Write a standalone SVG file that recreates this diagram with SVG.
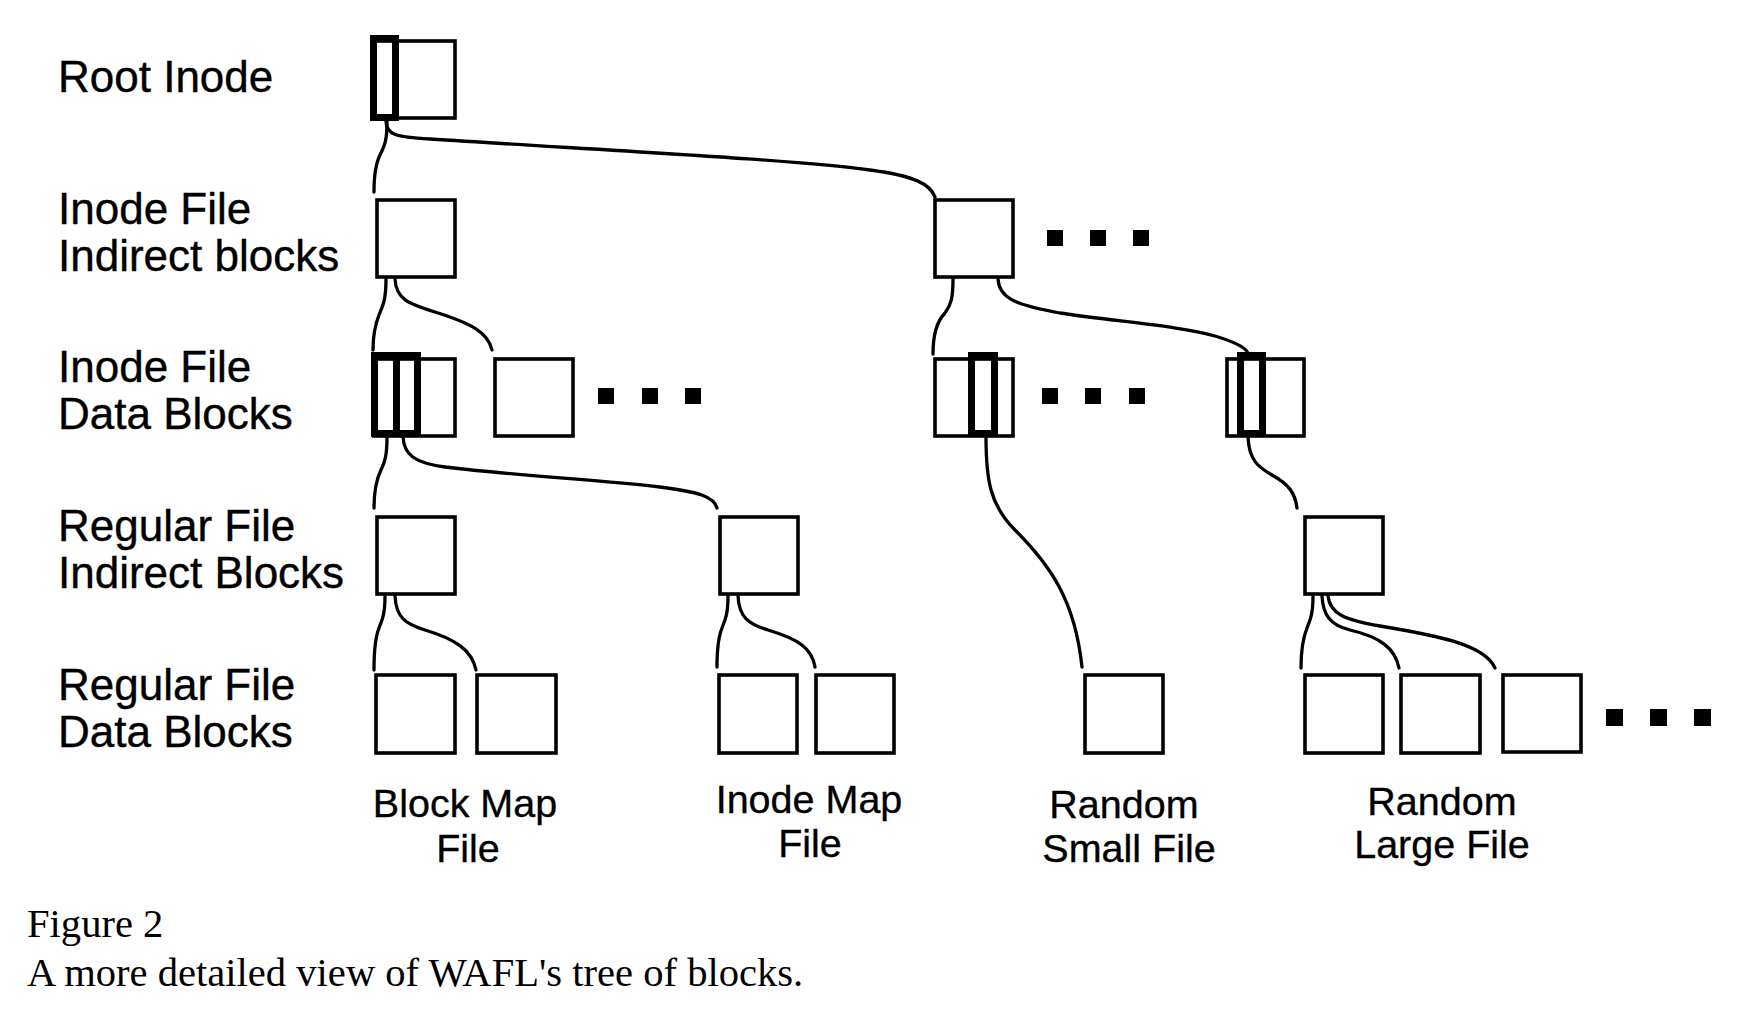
<svg xmlns="http://www.w3.org/2000/svg" width="1741" height="1012" viewBox="0 0 1741 1012">
<style>
.box{fill:none;stroke:#000;stroke-width:3.6}
.thick{fill:none;stroke:#000;stroke-width:7}
.dot{fill:#000}
.conn path{fill:none;stroke:#000;stroke-width:3.3;stroke-linecap:round}
.lbl{font-family:"Liberation Sans",Arial,Helvetica,sans-serif;font-size:44px;fill:#000;stroke:#000;stroke-width:0.4}
.flbl{font-family:"Liberation Sans",Arial,Helvetica,sans-serif;font-size:39.5px;fill:#000;stroke:#000;stroke-width:0.35;text-anchor:middle}
.cap{font-family:"Liberation Serif","Times New Roman",serif;font-size:40.6px;fill:#000}
</style>
<rect width="1741" height="1012" fill="#fff"/>

<g id="row-labels">
<text class="lbl" x="58" y="92">Root Inode</text>
<text class="lbl" x="58" y="224">Inode File</text>
<text class="lbl" x="58" y="271">Indirect blocks</text>
<text class="lbl" x="58" y="382">Inode File</text>
<text class="lbl" x="58" y="429">Data Blocks</text>
<text class="lbl" x="58" y="541">Regular File</text>
<text class="lbl" x="58" y="588">Indirect Blocks</text>
<text class="lbl" x="58" y="700">Regular File</text>
<text class="lbl" x="58" y="747">Data Blocks</text>
</g>

<g id="connectors" class="conn">
<path d="M387 121 C387 140 385 145 380 155 C376 163 374 175 374 192"/>
<path d="M386 121 C386 135 396 137 430 139 C600 150 800 160 870 170 C915 176 930 184 935 197"/>
<path d="M386 279 C386 300 383 305 379 315 C375 325 373 335 373 350"/>
<path d="M395 279 C396 300 410 304 435 312 C470 323 488 332 492 350"/>
<path d="M387 437 C387 455 385 462 381 470 C376 480 374 490 374 508"/>
<path d="M403 437 C404 455 415 463 445 467 C520 476 600 480 660 487 C700 492 714 497 717 508"/>
<path d="M385 596 C385 615 382 620 379 628 C375 638 374 650 374 670"/>
<path d="M395 596 C396 617 405 624 425 630 C455 639 472 650 476 670"/>
<path d="M728 596 C728 615 725 620 722 628 C718 638 717 648 717 667"/>
<path d="M738 596 C739 617 748 624 768 630 C798 639 812 648 815 667"/>
<path d="M953 279 C953 298 951 305 945 313 C936 322 933 335 933 354"/>
<path d="M998 279 C999 298 1015 305 1060 313 C1120 322 1180 326 1215 336 C1238 343 1246 348 1248 353"/>
<path d="M986 437 C986 480 990 505 1015 530 C1050 565 1075 600 1082 667"/>
<path d="M1248 437 C1249 460 1258 467 1272 475 C1288 484 1295 492 1297 508"/>
<path d="M1313 596 C1313 615 1310 620 1307 628 C1303 638 1301 650 1301 668"/>
<path d="M1322 596 C1323 615 1330 625 1350 630 C1380 637 1395 648 1399 668"/>
<path d="M1328 596 C1330 614 1345 620 1380 626 C1440 636 1485 645 1495 668"/>
</g>

<g id="root-inode">
<rect class="box" x="374" y="41" width="81" height="77"/>
<rect class="thick" x="373.5" y="38.5" width="22" height="79"/>
</g>

<g id="inode-indirect-1"><rect class="box" x="377" y="200" width="78" height="77"/></g>
<g id="inode-indirect-2"><rect class="box" x="935" y="200" width="78" height="77"/></g>
<g id="dots-row2">
<rect class="dot" x="1047" y="230" width="16" height="16"/>
<rect class="dot" x="1090" y="230" width="16" height="16"/>
<rect class="dot" x="1133" y="230" width="16" height="16"/>
</g>

<g id="inode-data-1">
<rect class="box" x="374" y="359" width="81" height="77"/>
<rect class="thick" x="374.5" y="355.5" width="22" height="78"/>
<rect class="thick" x="396.5" y="355.5" width="21" height="78"/>
</g>
<g id="inode-data-2"><rect class="box" x="495" y="359" width="78" height="77"/></g>
<g id="dots-row3a">
<rect class="dot" x="598" y="388" width="16" height="16"/>
<rect class="dot" x="642" y="388" width="16" height="16"/>
<rect class="dot" x="685" y="388" width="16" height="16"/>
</g>
<g id="inode-data-3">
<rect class="box" x="935" y="359" width="78" height="77"/>
<rect class="thick" x="971.5" y="355.5" width="23" height="78"/>
</g>
<g id="dots-row3c">
<rect class="dot" x="1042" y="388" width="16" height="16"/>
<rect class="dot" x="1085" y="388" width="16" height="16"/>
<rect class="dot" x="1129" y="388" width="16" height="16"/>
</g>
<g id="inode-data-4">
<rect class="box" x="1227" y="359" width="77" height="77"/>
<rect class="thick" x="1240.5" y="355.5" width="22" height="78"/>
</g>

<g id="reg-indirect-1"><rect class="box" x="377" y="517" width="78" height="77"/></g>
<g id="reg-indirect-2"><rect class="box" x="720" y="517" width="78" height="77"/></g>
<g id="reg-indirect-3"><rect class="box" x="1305" y="517" width="78" height="77"/></g>

<g id="reg-data-1"><rect class="box" x="376" y="675" width="79" height="78"/></g>
<g id="reg-data-2"><rect class="box" x="477" y="675" width="79" height="78"/></g>
<g id="reg-data-3"><rect class="box" x="719" y="675" width="78" height="78"/></g>
<g id="reg-data-4"><rect class="box" x="816" y="675" width="78" height="78"/></g>
<g id="reg-data-5"><rect class="box" x="1085" y="675" width="78" height="78"/></g>
<g id="reg-data-6"><rect class="box" x="1305" y="675" width="78" height="78"/></g>
<g id="reg-data-7"><rect class="box" x="1401" y="675" width="79" height="78"/></g>
<g id="reg-data-8"><rect class="box" x="1503" y="675" width="78" height="77"/></g>
<g id="dots-row5">
<rect class="dot" x="1606" y="709" width="17" height="17"/>
<rect class="dot" x="1650" y="709" width="17" height="17"/>
<rect class="dot" x="1694" y="709" width="17" height="17"/>
</g>

<g id="file-labels">
<text class="flbl" x="465" y="817">Block Map</text>
<text class="flbl" x="468" y="862">File</text>
<text class="flbl" x="809" y="813">Inode Map</text>
<text class="flbl" x="810" y="857">File</text>
<text class="flbl" x="1124" y="818">Random</text>
<text class="flbl" x="1129" y="862">Small File</text>
<text class="flbl" x="1442" y="815">Random</text>
<text class="flbl" x="1442" y="858">Large File</text>
</g>

<g id="caption">
<text class="cap" x="27" y="937">Figure 2</text>
<text class="cap" x="27" y="986">A more detailed view of WAFL's tree of blocks.</text>
</g>
</svg>
